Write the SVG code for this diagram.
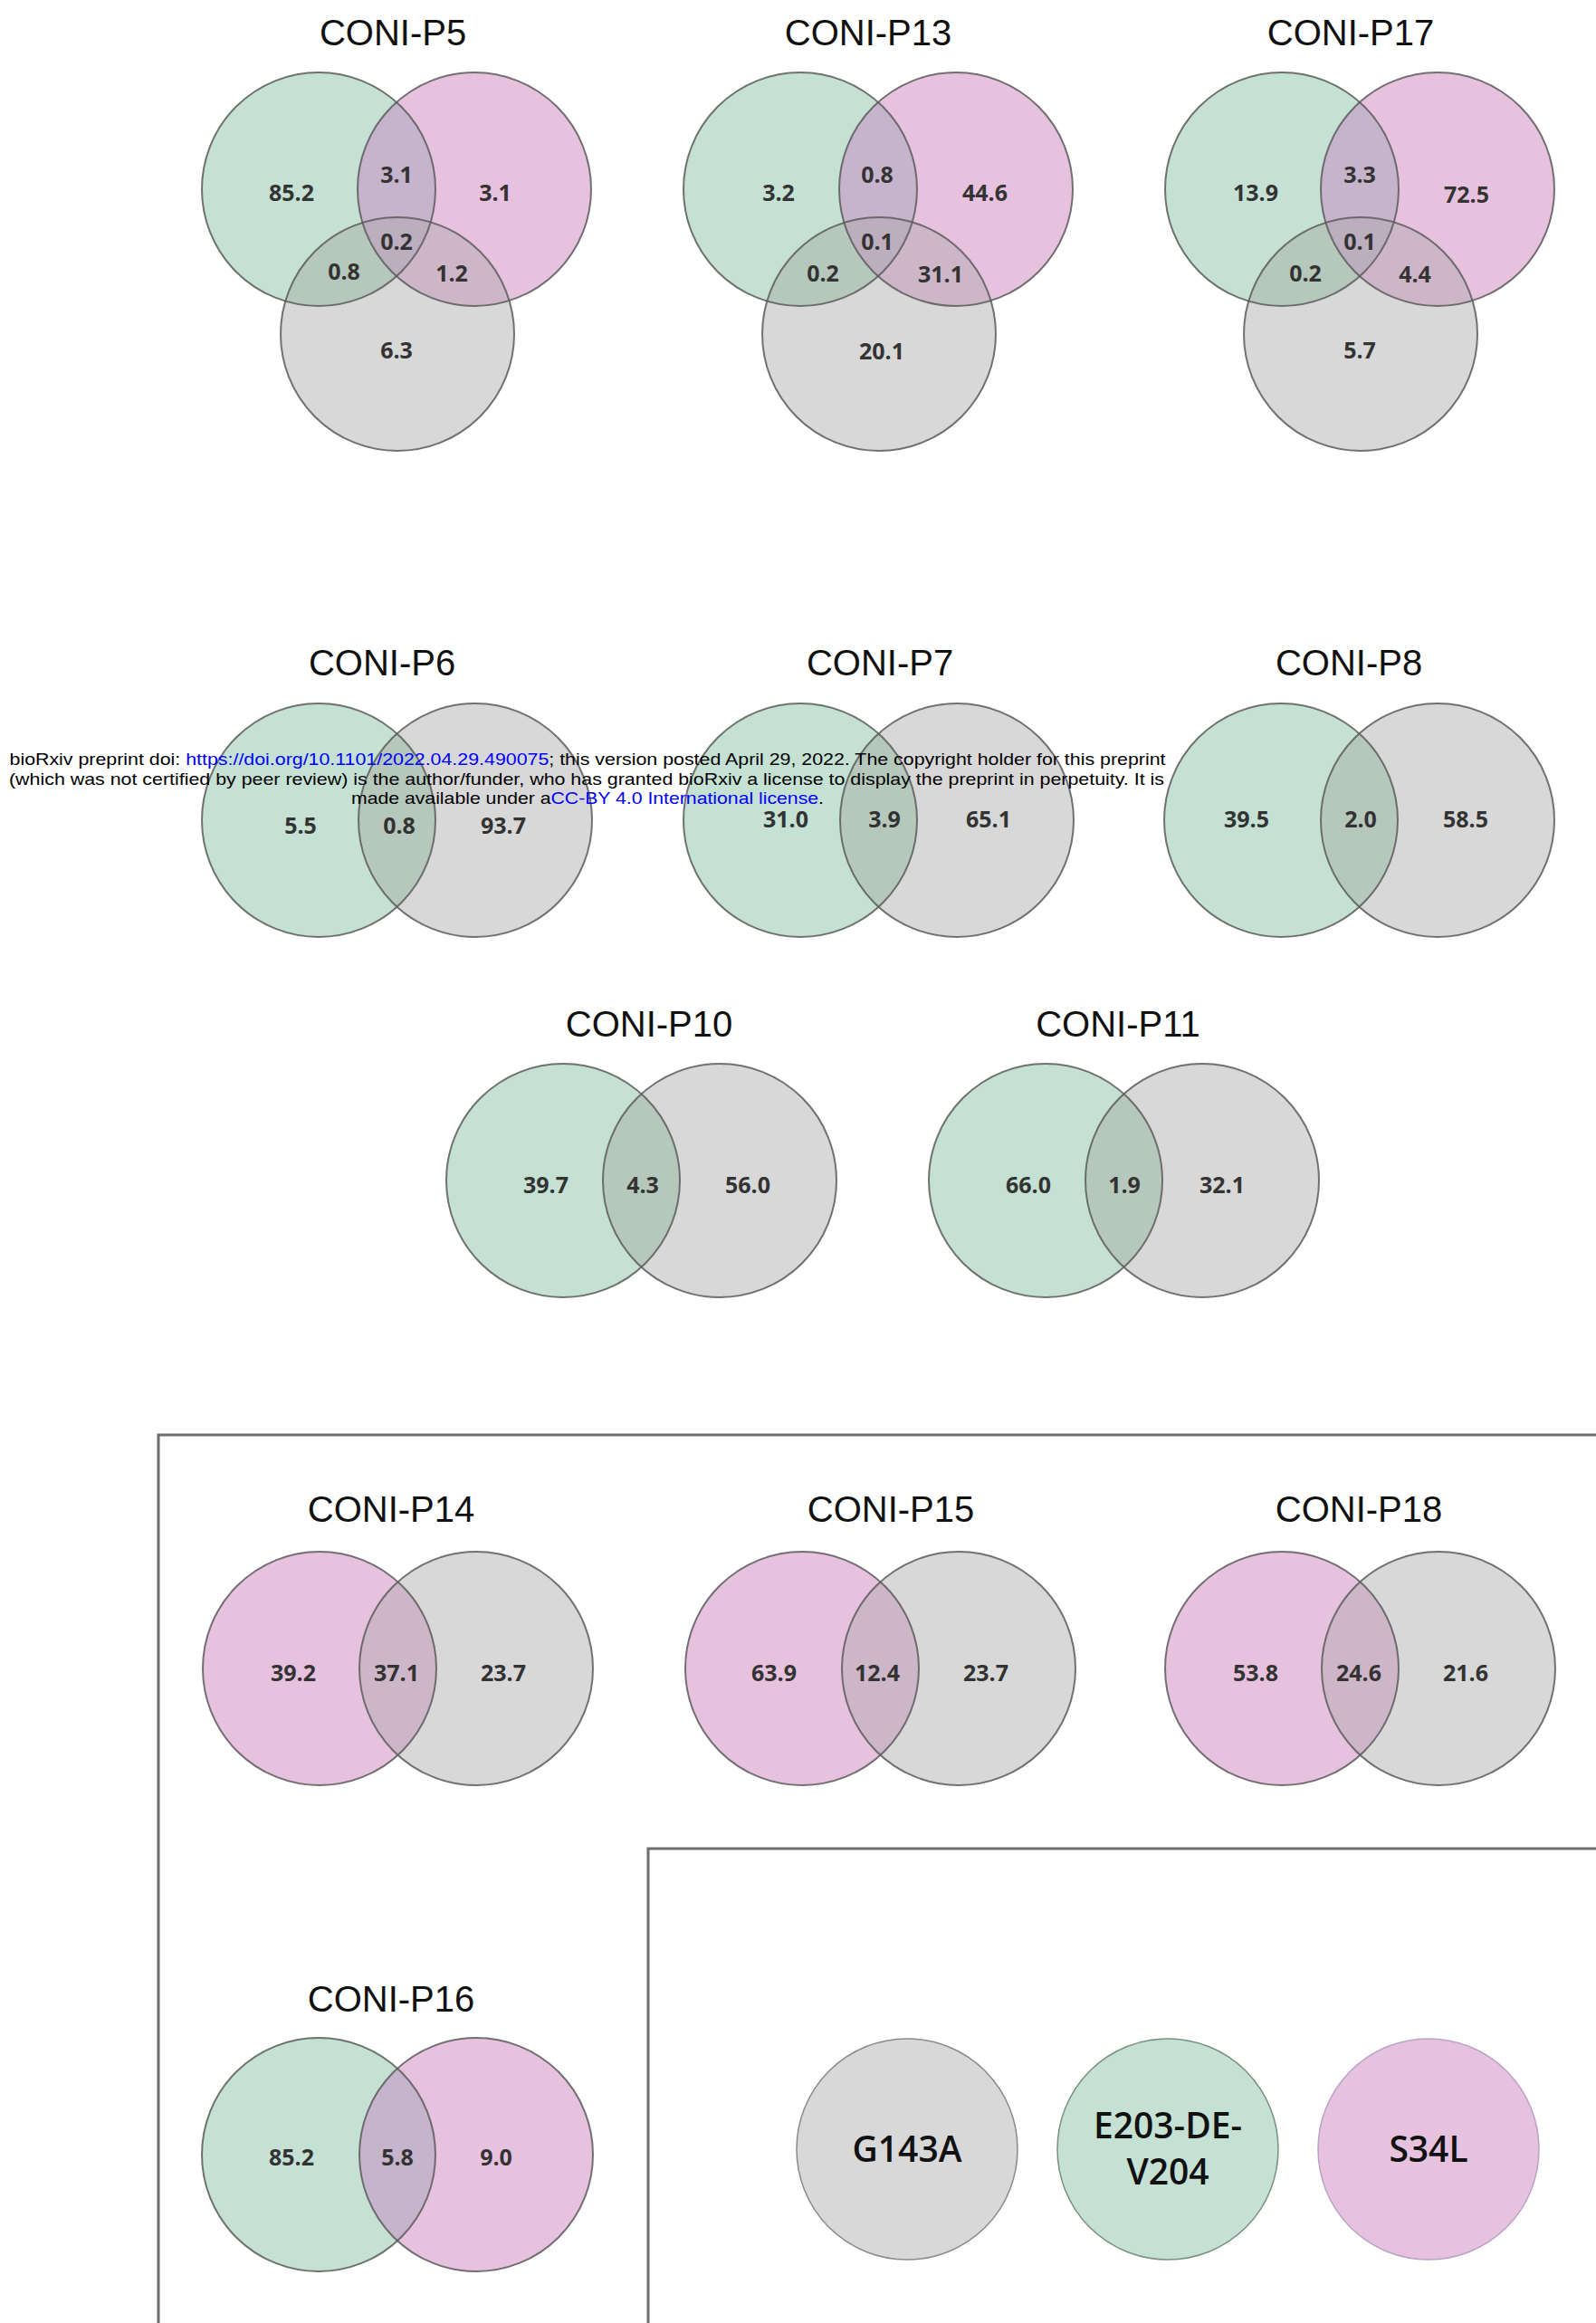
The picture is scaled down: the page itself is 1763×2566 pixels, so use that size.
<svg xmlns="http://www.w3.org/2000/svg" xmlns:xlink="http://www.w3.org/1999/xlink" width="1763" height="2566" viewBox="0 0 1763 2566">
<style>
.bg{fill:#ffffff}
.g{fill:#c4e1d3}
.p{fill:#e7c2de}
.y{fill:#d8d8d8}
.gp{fill:#c6b4cc}
.gy{fill:#b6c8bc}
.py{fill:#cdb6c8}
.gpy{fill:#bcaebe}
.o{fill:none;stroke:#5c5c5c;stroke-width:2;stroke-opacity:0.85}
.title{font-family:"Liberation Sans",Arial,sans-serif;font-size:40px;fill:#111;text-anchor:middle}
.num{font-family:"Open Sans","Noto Sans",sans-serif;font-weight:700;font-size:25px;fill:#333;text-anchor:middle}
.big{font-family:"Open Sans","Noto Sans",sans-serif;font-weight:600;font-size:39px;fill:#111;text-anchor:middle}
.frame{fill:none;stroke:#6e6e6e;stroke-width:3}
.wm{font-family:"Liberation Sans",Arial,sans-serif;font-size:19px;fill:#000;text-anchor:middle}
.lk{fill:#0000ff}
</style>
<defs>
<clipPath id="cA" clipPathUnits="userSpaceOnUse"><circle cx="0" cy="0" r="129"/></clipPath>
<clipPath id="cB" clipPathUnits="userSpaceOnUse"><circle cx="172" cy="0" r="129"/></clipPath>
</defs>
<rect class="bg" x="0" y="0" width="1763" height="2566"/>

<g id="frames">
<polyline class="frame" points="175,2566 175,1585 1763,1585"/>
<polyline class="frame" points="716,2566 716,2042 1763,2042"/>
</g>

<!-- Row 1: three-set diagrams -->
<g id="coni-p5">
<text class="title" x="434" y="50">CONI-P5</text>
<g transform="translate(352,209)">
<circle class="g" cx="0" cy="0" r="129"/><circle class="p" cx="172" cy="0" r="129"/><circle class="y" cx="87" cy="160" r="129"/>
<circle class="gp" cx="172" cy="0" r="129" clip-path="url(#cA)"/>
<circle class="gy" cx="87" cy="160" r="129" clip-path="url(#cA)"/>
<circle class="py" cx="87" cy="160" r="129" clip-path="url(#cB)"/>
<g clip-path="url(#cA)"><circle class="gpy" cx="87" cy="160" r="129" clip-path="url(#cB)"/></g>
<circle class="o" cx="0" cy="0" r="129"/><circle class="o" cx="172" cy="0" r="129"/><circle class="o" cx="87" cy="160" r="129"/>
</g>
<text class="num" x="322" y="222">85.2</text><text class="num" x="438" y="202">3.1</text><text class="num" x="547" y="222">3.1</text>
<text class="num" x="438" y="276">0.2</text><text class="num" x="380" y="309">0.8</text><text class="num" x="499" y="311">1.2</text>
<text class="num" x="438" y="396">6.3</text>
</g>

<g id="coni-p13">
<text class="title" x="959" y="50">CONI-P13</text>
<g transform="translate(884,209)">
<circle class="g" cx="0" cy="0" r="129"/><circle class="p" cx="172" cy="0" r="129"/><circle class="y" cx="87" cy="160" r="129"/>
<circle class="gp" cx="172" cy="0" r="129" clip-path="url(#cA)"/>
<circle class="gy" cx="87" cy="160" r="129" clip-path="url(#cA)"/>
<circle class="py" cx="87" cy="160" r="129" clip-path="url(#cB)"/>
<g clip-path="url(#cA)"><circle class="gpy" cx="87" cy="160" r="129" clip-path="url(#cB)"/></g>
<circle class="o" cx="0" cy="0" r="129"/><circle class="o" cx="172" cy="0" r="129"/><circle class="o" cx="87" cy="160" r="129"/>
</g>
<text class="num" x="860" y="222">3.2</text><text class="num" x="969" y="202">0.8</text><text class="num" x="1088" y="222">44.6</text>
<text class="num" x="969" y="276">0.1</text><text class="num" x="909" y="311">0.2</text><text class="num" x="1039" y="312">31.1</text>
<text class="num" x="974" y="397">20.1</text>
</g>

<g id="coni-p17">
<text class="title" x="1492" y="50">CONI-P17</text>
<g transform="translate(1416,209)">
<circle class="g" cx="0" cy="0" r="129"/><circle class="p" cx="172" cy="0" r="129"/><circle class="y" cx="87" cy="160" r="129"/>
<circle class="gp" cx="172" cy="0" r="129" clip-path="url(#cA)"/>
<circle class="gy" cx="87" cy="160" r="129" clip-path="url(#cA)"/>
<circle class="py" cx="87" cy="160" r="129" clip-path="url(#cB)"/>
<g clip-path="url(#cA)"><circle class="gpy" cx="87" cy="160" r="129" clip-path="url(#cB)"/></g>
<circle class="o" cx="0" cy="0" r="129"/><circle class="o" cx="172" cy="0" r="129"/><circle class="o" cx="87" cy="160" r="129"/>
</g>
<text class="num" x="1387" y="222">13.9</text><text class="num" x="1502" y="202">3.3</text><text class="num" x="1620" y="224">72.5</text>
<text class="num" x="1502" y="276">0.1</text><text class="num" x="1442" y="311">0.2</text><text class="num" x="1563" y="312">4.4</text>
<text class="num" x="1502" y="396">5.7</text>
</g>

<!-- Row 2 -->
<g id="coni-p6">
<text class="title" x="422" y="746">CONI-P6</text>
<g transform="translate(352,906)">
<circle class="g" cx="0" cy="0" r="129"/><circle class="y" cx="173" cy="0" r="129"/>
<circle class="gy" cx="173" cy="0" r="129" clip-path="url(#cA)"/>
<circle class="o" cx="0" cy="0" r="129"/><circle class="o" cx="173" cy="0" r="129"/>
</g>
<text class="num" x="332" y="921">5.5</text><text class="num" x="441" y="921">0.8</text><text class="num" x="556" y="921">93.7</text>
</g>

<g id="coni-p7">
<text class="title" x="972" y="746">CONI-P7</text>
<g transform="translate(884,906)">
<circle class="g" cx="0" cy="0" r="129"/><circle class="y" cx="173" cy="0" r="129"/>
<circle class="gy" cx="173" cy="0" r="129" clip-path="url(#cA)"/>
<circle class="o" cx="0" cy="0" r="129"/><circle class="o" cx="173" cy="0" r="129"/>
</g>
<text class="num" x="868" y="914">31.0</text><text class="num" x="977" y="914">3.9</text><text class="num" x="1092" y="914">65.1</text>
</g>

<g id="coni-p8">
<text class="title" x="1490" y="746">CONI-P8</text>
<g transform="translate(1415,906)">
<circle class="g" cx="0" cy="0" r="129"/><circle class="y" cx="173" cy="0" r="129"/>
<circle class="gy" cx="173" cy="0" r="129" clip-path="url(#cA)"/>
<circle class="o" cx="0" cy="0" r="129"/><circle class="o" cx="173" cy="0" r="129"/>
</g>
<text class="num" x="1377" y="914">39.5</text><text class="num" x="1503" y="914">2.0</text><text class="num" x="1619" y="914">58.5</text>
</g>

<!-- Row 3 -->
<g id="coni-p10">
<text class="title" x="717" y="1145">CONI-P10</text>
<g transform="translate(622,1304)">
<circle class="g" cx="0" cy="0" r="129"/><circle class="y" cx="173" cy="0" r="129"/>
<circle class="gy" cx="173" cy="0" r="129" clip-path="url(#cA)"/>
<circle class="o" cx="0" cy="0" r="129"/><circle class="o" cx="173" cy="0" r="129"/>
</g>
<text class="num" x="603" y="1318">39.7</text><text class="num" x="710" y="1318">4.3</text><text class="num" x="826" y="1318">56.0</text>
</g>

<g id="coni-p11">
<text class="title" x="1235" y="1145">CONI-P11</text>
<g transform="translate(1155,1304)">
<circle class="g" cx="0" cy="0" r="129"/><circle class="y" cx="173" cy="0" r="129"/>
<circle class="gy" cx="173" cy="0" r="129" clip-path="url(#cA)"/>
<circle class="o" cx="0" cy="0" r="129"/><circle class="o" cx="173" cy="0" r="129"/>
</g>
<text class="num" x="1136" y="1318">66.0</text><text class="num" x="1242" y="1318">1.9</text><text class="num" x="1350" y="1318">32.1</text>
</g>

<!-- Row 4 -->
<g id="coni-p14">
<text class="title" x="432" y="1681">CONI-P14</text>
<g transform="translate(353,1843)">
<circle class="p" cx="0" cy="0" r="129"/><circle class="y" cx="173" cy="0" r="129"/>
<circle class="py" cx="173" cy="0" r="129" clip-path="url(#cA)"/>
<circle class="o" cx="0" cy="0" r="129"/><circle class="o" cx="173" cy="0" r="129"/>
</g>
<text class="num" x="324" y="1857">39.2</text><text class="num" x="438" y="1857">37.1</text><text class="num" x="556" y="1857">23.7</text>
</g>

<g id="coni-p15">
<text class="title" x="984" y="1681">CONI-P15</text>
<g transform="translate(886,1843)">
<circle class="p" cx="0" cy="0" r="129"/><circle class="y" cx="173" cy="0" r="129"/>
<circle class="py" cx="173" cy="0" r="129" clip-path="url(#cA)"/>
<circle class="o" cx="0" cy="0" r="129"/><circle class="o" cx="173" cy="0" r="129"/>
</g>
<text class="num" x="855" y="1857">63.9</text><text class="num" x="969" y="1857">12.4</text><text class="num" x="1089" y="1857">23.7</text>
</g>

<g id="coni-p18">
<text class="title" x="1501" y="1681">CONI-P18</text>
<g transform="translate(1416,1843)">
<circle class="p" cx="0" cy="0" r="129"/><circle class="y" cx="173" cy="0" r="129"/>
<circle class="py" cx="173" cy="0" r="129" clip-path="url(#cA)"/>
<circle class="o" cx="0" cy="0" r="129"/><circle class="o" cx="173" cy="0" r="129"/>
</g>
<text class="num" x="1387" y="1857">53.8</text><text class="num" x="1501" y="1857">24.6</text><text class="num" x="1619" y="1857">21.6</text>
</g>

<!-- Row 5 -->
<g id="coni-p16">
<text class="title" x="432" y="2222">CONI-P16</text>
<g transform="translate(352,2380)">
<circle class="g" cx="0" cy="0" r="129"/><circle class="p" cx="174" cy="0" r="129"/>
<circle class="gp" cx="174" cy="0" r="129" clip-path="url(#cA)"/>
<circle class="o" cx="0" cy="0" r="129"/><circle class="o" cx="174" cy="0" r="129"/>
</g>
<text class="num" x="322" y="2392">85.2</text><text class="num" x="439" y="2392">5.8</text><text class="num" x="548" y="2392">9.0</text>
</g>

<g id="g143a">
<circle cx="1002" cy="2374" r="122" fill="#d8d8d8" stroke="#8a8a8a" stroke-width="1.5"/>
<text class="big" x="1002" y="2388">G143A</text>
</g>
<g id="e203">
<circle cx="1290" cy="2374" r="122" fill="#c4e1d3" stroke="#7a8f84" stroke-width="1.5"/>
<text class="big" x="1290" y="2362">E203-DE-</text>
<text class="big" x="1290" y="2413">V204</text>
</g>
<g id="s34l">
<circle cx="1578" cy="2374" r="122" fill="#e7c2de" stroke="#b9a3c6" stroke-width="1.5"/>
<text class="big" x="1578" y="2388">S34L</text>
</g>

<g id="watermark">
<text class="wm" x="649" y="845" textLength="1277" lengthAdjust="spacingAndGlyphs">bioRxiv preprint doi: <tspan class="lk">https://doi.org/10.1101/2022.04.29.490075</tspan>; this version posted April 29, 2022. The copyright holder for this preprint</text>
<text class="wm" x="648" y="867" textLength="1276" lengthAdjust="spacingAndGlyphs">(which was not certified by peer review) is the author/funder, who has granted bioRxiv a license to display the preprint in perpetuity. It is</text>
<text class="wm" x="649" y="888" textLength="522" lengthAdjust="spacingAndGlyphs">made available under a<tspan class="lk">CC-BY 4.0 International license</tspan>.</text>
</g>
</svg>
